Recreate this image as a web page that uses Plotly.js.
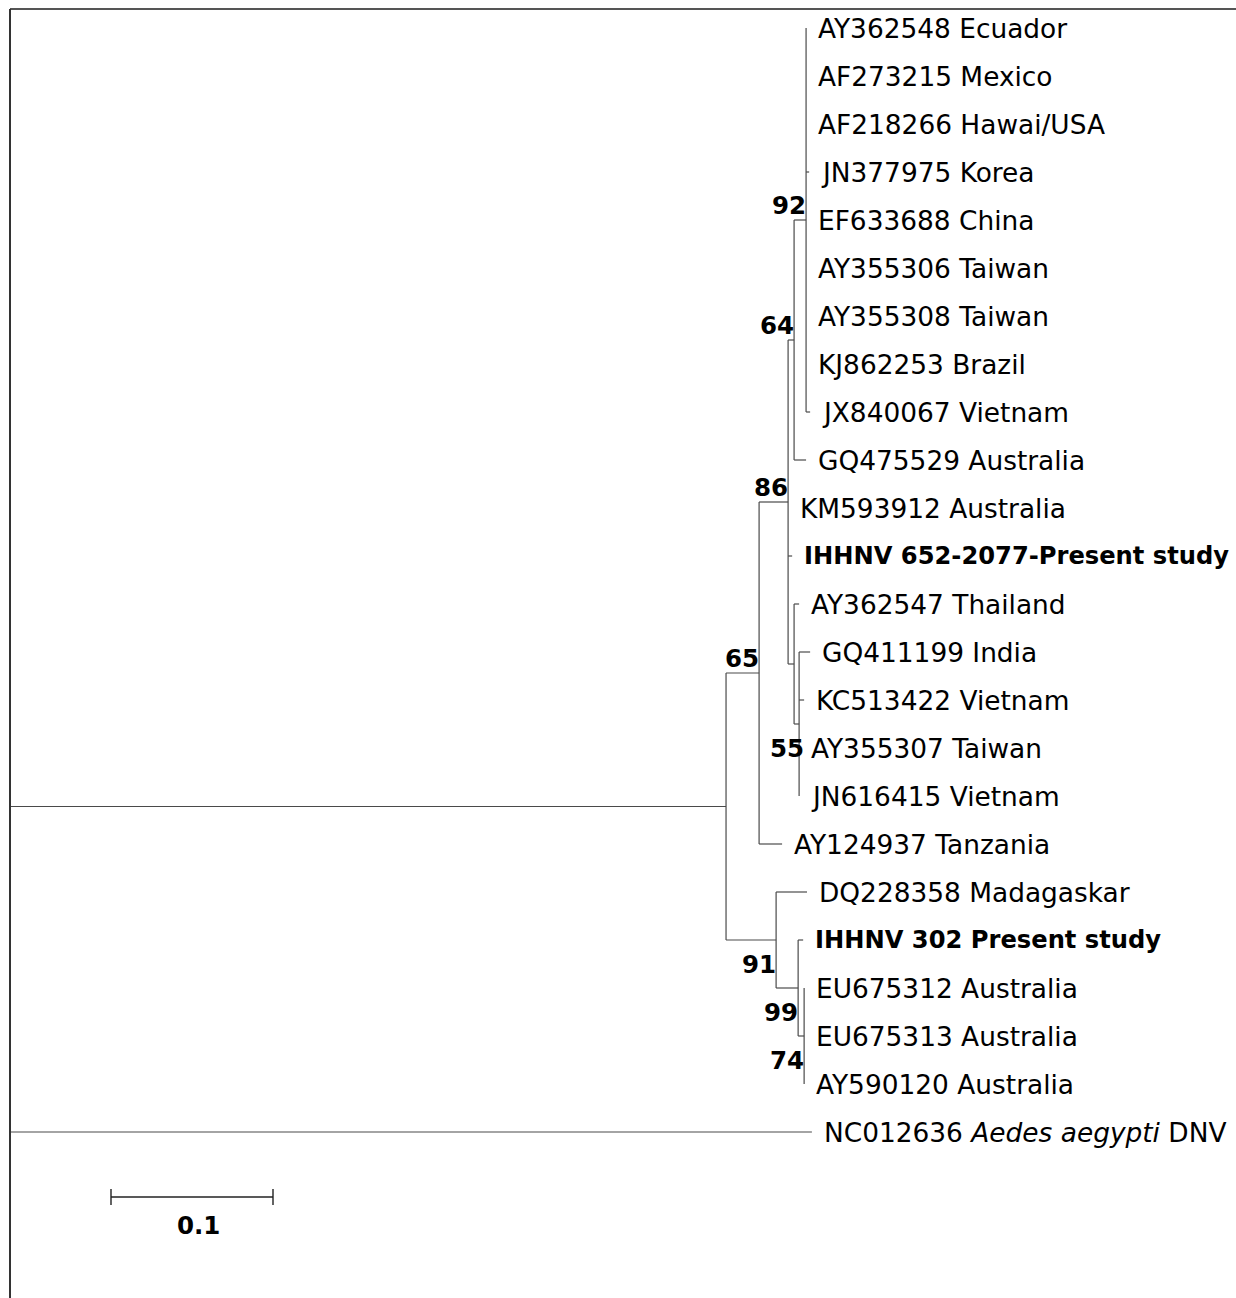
<!DOCTYPE html>
<html><head><meta charset="utf-8">
<script src="https://cdn.plot.ly/plotly-3.0.1.min.js"></script>
<style>html,body{margin:0;padding:0;background:#fff}</style>
</head><body><div id="chart" style="width:1236px;height:1298px"></div>
<script>
// ---- Data ----
const leafNames = [
  "AY362548 Ecuador","AF273215 Mexico","AF218266 Hawai/USA","JN377975 Korea",
  "EF633688 China","AY355306 Taiwan","AY355308 Taiwan","KJ862253 Brazil",
  "JX840067 Vietnam","GQ475529 Australia","KM593912 Australia",
  "IHHNV 652-2077-Present study","AY362547 Thailand","GQ411199 India",
  "KC513422 Vietnam","AY355307 Taiwan","JN616415 Vietnam","AY124937 Tanzania",
  "DQ228358 Madagaskar","IHHNV 302 Present study","EU675312 Australia",
  "EU675313 Australia","AY590120 Australia","NC012636 <i>Aedes aegypti</i> DNV"
];
const leafBold = [0,0,0,0,0,0,0,0,0,0,0,1,0,0,0,0,0,0,0,1,0,0,0,0];
const leafParents = ["N92","N92","N92","N92","N92","N92","N92","N92","N92","N64","D","D",
  "E","F","F","F","F","B","C","G","H","H","H","root"];
const leafBranch = [0,0,0,0.0019,0,0,0,0,0.0025,0.0074,0,0.0025,
  0.0031,0.0068,0.0031,0,0,0.0142,0.0191,0.0031,0,0,0,0.495];

const nodeNames   = ["root","A","B","C","D","N64","N92","E","F","G","H"];
const nodeParents = [null,"root","A","A","B","D","N64","D","E","C","G"];
const nodeBranch  = [0,0.442,0.0204,0.0309,0.0179,0.0037,0.0074,0.0037,0.0031,0.0136,0.0037];

const bootNodes  = ["N92","N64","D","B","F","C","G","H"];
const bootValues = [92,64,86,65,55,91,99,74];
const bootSide   = ["above","above","above","above","below","below","below","below"];

const scaleLength = 0.1;
const scaleLabel = "0.1";

// ---- Layout helpers (pixel mapping) ----
const W = 1236, H = 1298;
const PX_PER_UNIT = 1620, X0PX = 10;
const Y0PX = 28, ROWPX = 48;
const xr = [-X0PX / PX_PER_UNIT, (W - X0PX) / PX_PER_UNIT];
const yr = [(H - Y0PX) / ROWPX, -Y0PX / ROWPX];
const pxToY = p => (p - Y0PX) / ROWPX;

// ---- Build tree ----
const nodeX = {}, nodeY = {}, children = {};
nodeNames.forEach(n => children[n] = []);
leafNames.forEach((n, i) => children[leafParents[i]].push({type: "leaf", i}));
nodeNames.forEach((n, i) => { if (nodeParents[i]) children[nodeParents[i]].push({type: "node", name: n}); });

function depth(name) {
  const i = nodeNames.indexOf(name);
  if (nodeParents[i] === null) return 0;
  return depth(nodeParents[i]) + nodeBranch[i];
}
nodeNames.forEach(n => nodeX[n] = depth(n));
const leafX = leafNames.map((n, i) => nodeX[leafParents[i]] + leafBranch[i]);

function childY(c) { return c.type === "leaf" ? c.i : computeY(c.name); }
function computeY(name) {
  const ys = children[name].map(childY);
  nodeY[name] = (Math.min(...ys) + Math.max(...ys)) / 2;
  return nodeY[name];
}
computeY("root");

const lx = [], ly = [];
leafNames.forEach((n, i) => { lx.push(nodeX[leafParents[i]], leafX[i], null); ly.push(i, i, null); });
nodeNames.forEach((n, i) => { if (nodeParents[i]) { lx.push(nodeX[nodeParents[i]], nodeX[n], null); ly.push(nodeY[n], nodeY[n], null); } });
nodeNames.forEach(n => {
  const ys = children[n].map(c => c.type === "leaf" ? c.i : nodeY[c.name]);
  lx.push(nodeX[n], nodeX[n], null); ly.push(Math.min(...ys), Math.max(...ys), null);
});

const FONT = "DejaVu Sans, Verdana, sans-serif";
const annotations = [];
leafNames.forEach((n, i) => {
  annotations.push({
    x: leafX[i], y: i, xref: "x", yref: "y", xanchor: "left", yanchor: "middle",
    xshift: 10, showarrow: false,
    text: leafBold[i] ? "<b>" + n + "</b>" : n,
    font: {family: FONT, size: leafBold[i] ? 24.2 : 26.4, color: "#000"}
  });
});
bootNodes.forEach((n, k) => {
  const above = bootSide[k] === "above";
  annotations.push({
    x: nodeX[n], y: nodeY[n], xref: "x", yref: "y", xanchor: "right",
    yanchor: above ? "bottom" : "top", yshift: above ? -2 : -8,
    xshift: n === "F" ? 7 : 2,
    showarrow: false, text: "<b>" + bootValues[k] + "</b>",
    font: {family: FONT, size: 24.5, color: "#000"}
  });
});

// scale bar
const sbX0 = (111 - X0PX) / PX_PER_UNIT;
const sbY = pxToY(1197), tick = 8 / ROWPX;
const sx = [sbX0, sbX0 + scaleLength, null, sbX0, sbX0, null, sbX0 + scaleLength, sbX0 + scaleLength];
const sy = [sbY, sbY, null, sbY - tick, sbY + tick, null, sbY - tick, sbY + tick];
annotations.push({
  x: sbX0 + scaleLength / 2, y: sbY, xref: "x", yref: "y", xanchor: "center", yanchor: "top",
  yshift: -12, xshift: 6, showarrow: false, text: "<b>" + scaleLabel + "</b>",
  font: {family: FONT, size: 24.5, color: "#000"}
});

const traces = [
  {x: lx, y: ly, mode: "lines", line: {color: "#4a4a4a", width: 1.2}, hoverinfo: "skip", showlegend: false},
  {x: sx, y: sy, mode: "lines", line: {color: "#222", width: 1.4}, hoverinfo: "skip", showlegend: false}
];

const frameY = pxToY(9);
const layout = {
  width: W, height: H, margin: {l: 0, r: 0, t: 0, b: 0},
  paper_bgcolor: "#fff", plot_bgcolor: "#fff", showlegend: false,
  xaxis: {range: xr, visible: false, fixedrange: true},
  yaxis: {range: yr, visible: false, fixedrange: true},
  annotations,
  shapes: [
    {type: "line", xref: "x", yref: "y", x0: 0, x1: xr[1], y0: frameY, y1: frameY, line: {color: "#555", width: 2}},
    {type: "line", xref: "x", yref: "y", x0: 0, x1: 0, y0: frameY, y1: yr[0], line: {color: "#333", width: 2}}
  ]
};
Plotly.newPlot("chart", traces, layout, {displayModeBar: false, staticPlot: true});
</script></body></html>
